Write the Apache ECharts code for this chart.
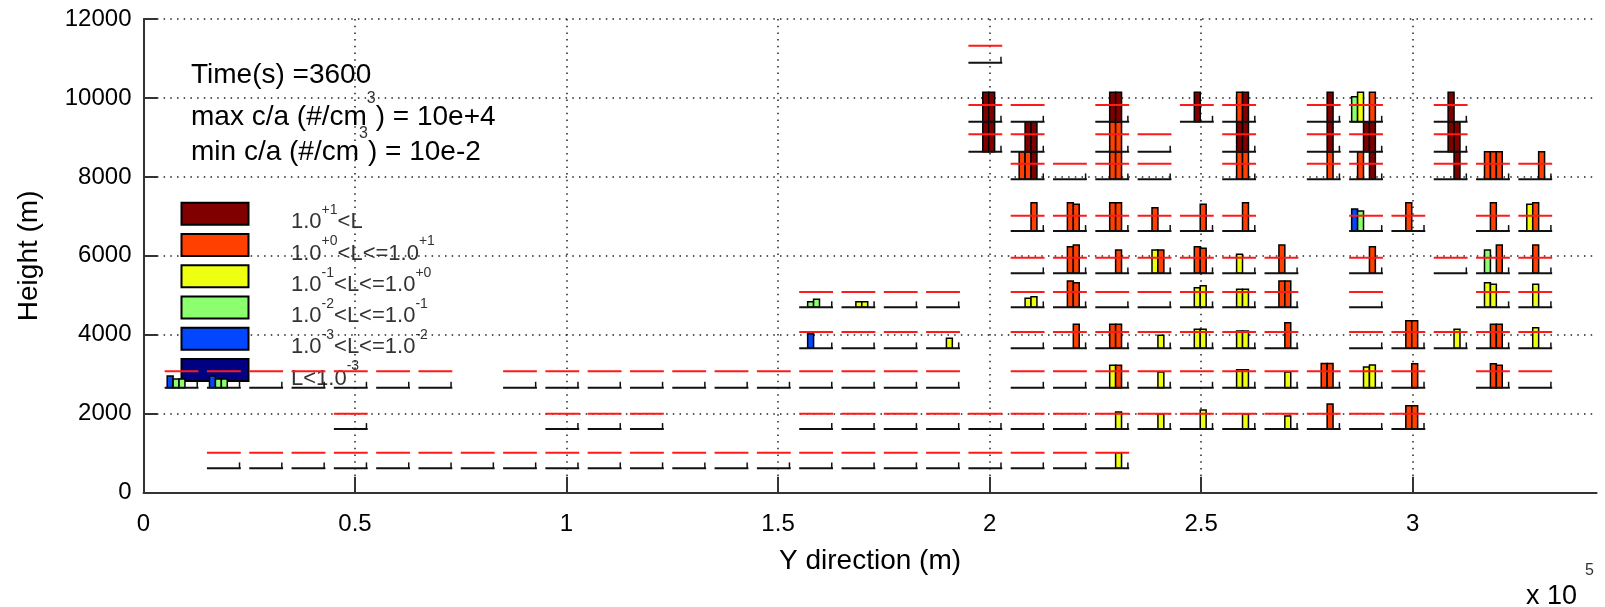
<!DOCTYPE html>
<html>
<head>
<meta charset="utf-8">
<style>
  html, body { margin: 0; padding: 0; background: #fff; }
  #chart { width: 1605px; height: 607px; }
</style>
<script src="https://cdn.jsdelivr.net/npm/echarts@6/dist/echarts.min.js"></script>
</head>
<body>
<div id="chart"></div>
<script>
// horizontal position of each column of histograms (x 10^5 m)
const columnX = [0.05, 0.15, 0.25, 0.35, 0.45, 0.55, 0.65, 0.75, 0.85, 0.95, 1.05,
  1.15, 1.25, 1.35, 1.45, 1.55, 1.65, 1.75, 1.85, 1.95, 2.05, 2.15, 2.25, 2.35,
  2.45, 2.55, 2.65, 2.75, 2.85, 2.95, 3.05, 3.15, 3.25]
const xTickValues = [0, 0.5, 1, 1.5, 2, 2.5, 3]

// model levels (m): red reference line and histogram baseline
const levelRed = [1010, 2000, 3075, 4070, 5085, 5950, 7015, 8330, 9080, 9820, 11320]
const levelBase = [618, 1614, 2660, 3658, 4697, 5558, 6630, 7939, 8638, 9398, 10893]

// which columns have a histogram at each level
const levelCells = [
  [1, 2, 3, 4, 5, 6, 7, 8, 9, 10, 11, 12, 13, 14, 15, 16, 17, 18, 19, 20, 21, 22],
  [4, 9, 10, 11, 15, 16, 17, 18, 19, 20, 21, 22, 23, 24, 25, 26, 27, 28, 29],
  [0, 1, 2, 3, 4, 5, 6, 8, 9, 10, 11, 12, 13, 14, 15, 16, 17, 18, 20, 21, 22, 23, 24, 25, 26, 27, 28, 29, 31, 32],
  [15, 16, 17, 18, 20, 21, 22, 23, 24, 25, 26, 28, 29, 30, 31, 32],
  [15, 16, 17, 18, 20, 21, 22, 23, 24, 25, 26, 28, 31, 32],
  [20, 21, 22, 23, 24, 25, 26, 28, 30, 31, 32],
  [20, 21, 22, 23, 24, 25, 28, 29, 31, 32],
  [20, 21, 22, 23, 25, 27, 28, 30, 31, 32],
  [19, 20, 22, 23, 25, 27, 28, 30],
  [19, 20, 22, 24, 25, 27, 28, 30],
  [19]
]

// bars per level: [column, bin, height above baseline (m), class]
// class 0: >1e1, 1: 1e0..1e1, 2: 1e-1..1e0, 3: 1e-2..1e-1, 4: 1e-3..1e-2, 5: <1e-3
const barsL0 = [[22, 3, 395, 2]]
const barsL1 = [[22, 3, 430, 2], [23, 3, 380, 2], [24, 3, 480, 2], [25, 3, 380, 2], [26, 3, 330, 2],
  [27, 3, 633, 1], [29, 2, 590, 1], [29, 3, 590, 1]]
const barsL2 = [[0, 0, 296, 4], [0, 1, 220, 3], [0, 2, 220, 3], [1, 0, 296, 4], [1, 1, 220, 3], [1, 2, 220, 3],
  [22, 2, 567, 2], [22, 3, 567, 1], [23, 3, 398, 2], [25, 2, 456, 2], [25, 3, 456, 2], [26, 3, 398, 2],
  [27, 2, 610, 1], [27, 3, 610, 1], [28, 2, 524, 2], [28, 3, 575, 2], [29, 3, 608, 1], [31, 2, 608, 1], [31, 3, 567, 1]]
const barsL3 = [[15, 1, 370, 4], [18, 3, 253, 2], [21, 3, 608, 1], [22, 2, 608, 1], [22, 3, 608, 1],
  [23, 3, 329, 2], [24, 2, 481, 2], [24, 3, 481, 2], [25, 2, 439, 2], [25, 3, 439, 2], [26, 3, 649, 1],
  [29, 2, 699, 1], [29, 3, 699, 1], [30, 3, 481, 2], [31, 2, 608, 1], [31, 3, 608, 1], [32, 2, 523, 2]]
const barsL4 = [[15, 1, 142, 3], [15, 2, 202, 3], [16, 2, 142, 2], [16, 3, 142, 2], [20, 2, 227, 2], [20, 3, 269, 2],
  [21, 2, 666, 1], [21, 3, 623, 1], [24, 2, 497, 2], [24, 3, 547, 2], [25, 2, 455, 2], [25, 3, 455, 2],
  [26, 2, 666, 1], [26, 3, 666, 1], [31, 1, 623, 2], [31, 2, 581, 2], [32, 2, 581, 2]]
const barsL5 = [[21, 2, 674, 1], [21, 3, 717, 1], [22, 3, 590, 1], [23, 2, 590, 2], [23, 3, 590, 1],
  [24, 2, 674, 1], [24, 3, 632, 1], [25, 2, 481, 2], [26, 2, 717, 1], [28, 3, 674, 1],
  [31, 1, 590, 3], [31, 3, 717, 1], [32, 2, 717, 1]]
const barsL6 = [[20, 3, 717, 1], [21, 2, 717, 1], [21, 3, 676, 1], [22, 2, 717, 1], [22, 3, 717, 1],
  [23, 2, 590, 1], [24, 3, 676, 1], [25, 3, 717, 1], [28, 0, 557, 4], [28, 1, 506, 3],
  [29, 2, 717, 1], [31, 2, 717, 1], [32, 1, 676, 2], [32, 2, 717, 1]]
const barsL7 = [[20, 1, 700, 1], [20, 2, 700, 1], [20, 3, 700, 0], [22, 2, 700, 1], [22, 3, 700, 1],
  [25, 2, 700, 1], [25, 3, 700, 1], [27, 3, 700, 1], [28, 1, 700, 1], [28, 3, 700, 0], [30, 3, 700, 0],
  [31, 1, 700, 1], [31, 2, 700, 1], [31, 3, 700, 1], [32, 3, 700, 1]]
const barsL8 = [[19, 2, 760, 0], [19, 3, 760, 0], [20, 2, 760, 0], [20, 3, 760, 0], [22, 2, 760, 1], [22, 3, 760, 1],
  [25, 2, 760, 0], [25, 3, 760, 0], [27, 3, 760, 0], [28, 2, 760, 0], [28, 3, 760, 0], [30, 2, 760, 0], [30, 3, 760, 0]]
const barsL9 = [[19, 2, 745, 0], [19, 3, 745, 0], [22, 2, 745, 0], [22, 3, 745, 0], [24, 2, 745, 0],
  [25, 2, 745, 1], [25, 3, 745, 0], [27, 3, 745, 0], [28, 0, 634, 3], [28, 1, 745, 2], [28, 3, 745, 1], [30, 2, 745, 0]]
const levelBars = [barsL0, barsL1, barsL2, barsL3, barsL4, barsL5, barsL6, barsL7, barsL8, barsL9, []]

const classColors = ['#800000', '#ff4000', '#eeff10', '#8cff6e', '#0047ff', '#000080']
const classLabels = [
  '{n|1.0}{s|+1}{n|<L}',
  '{n|1.0}{s|+0}{n|<L<=1.0}{s|+1}',
  '{n|1.0}{s|-1}{n|<L<=1.0}{s|+0}',
  '{n|1.0}{s|-2}{n|<L<=1.0}{s|-1}',
  '{n|1.0}{s|-3}{n|<L<=1.0}{s|-2}',
  '{n|L<1.0}{s|-3}'
]
const infoLines = [
  '{n|Time(s) =3600}',
  '{n|max c/a (#/cm}{s|3}{n|) = 10e+4}',
  '{n|min c/a (#/cm}{s|3}{n|) = 10e-2}'
]

const FONT = '"Liberation Sans", Arial, sans-serif'
const CELL_W = 0.08
const BIN_X0 = 0.006
const BIN_W = 0.014
const TICK_X = 0.077
const TICK_H = 150

const frameData = []
levelCells.forEach((cols, lv) => {
  cols.forEach(c => frameData.push([columnX[c], levelBase[lv], levelRed[lv]]))
})

const barData = []
levelBars.forEach((list, lv) => {
  list.forEach(([c, bin, h, cls]) => {
    barData.push([columnX[c] + BIN_X0 + BIN_W * bin, levelBase[lv], levelBase[lv] + h, cls])
  })
})

const chart = echarts.init(document.getElementById('chart'))

const infoRich = {
  n: { fontSize: 28, lineHeight: 40, fontFamily: FONT, fill: '#000', verticalAlign: 'bottom' },
  s: { fontSize: 16, lineHeight: 16, fontFamily: FONT, fill: '#333', verticalAlign: 'top' }
}
const legendRich = {
  n: { fontSize: 22, lineHeight: 30, fontFamily: FONT, fill: '#333', verticalAlign: 'bottom' },
  s: { fontSize: 14, lineHeight: 14, fontFamily: FONT, fill: '#333', verticalAlign: 'top' }
}

const graphics = []
const infoTops = [49, 91, 126]
infoLines.forEach((t, i) => {
  graphics.push({ type: 'text', x: 191, y: infoTops[i], z: 1, style: { text: t, rich: infoRich } })
})
classLabels.forEach((t, i) => {
  const top = 202.7 + 31.26 * i
  graphics.push({
    type: 'rect', z: 1,
    shape: { x: 181.5, y: top, width: 67, height: 22 },
    style: { fill: classColors[i], stroke: '#000', lineWidth: 2 }
  })
  graphics.push({ type: 'text', x: 291, y: top + 0.5, z: 1, style: { text: t, rich: legendRich } })
})
graphics.push({
  type: 'text', x: 1526, y: 583, z: 1,
  style: { text: 'x 10', fontSize: 27, fontFamily: FONT, fill: '#000' }
})
graphics.push({
  type: 'text', x: 1585, y: 563, z: 1,
  style: { text: '5', fontSize: 16, fontFamily: FONT, fill: '#333' }
})

const dotted = { type: [1.5, 5.2], color: '#222', width: 1.5 }

const option = {
  animation: false,
  grid: { left: 143.5, right: 8.4, top: 19, bottom: 114.3, containLabel: false, outerBoundsMode: 'none' },
  xAxis: {
    type: 'value',
    min: 0,
    max: 3.435,
    interval: 0.5,
    name: 'Y direction (m)',
    nameLocation: 'middle',
    nameGap: 55,
    nameTextStyle: { fontSize: 28, fontFamily: FONT, color: '#000' },
    axisLine: { show: true, lineStyle: { color: '#333', width: 2 } },
    axisTick: { show: true, inside: true, length: 16, lineStyle: { color: '#333', width: 2 },
      customValues: xTickValues },
    axisLabel: { fontSize: 24, fontFamily: FONT, color: '#000', margin: 20, formatter: v => String(v),
      customValues: xTickValues },
    splitLine: { show: true, showMinLine: false, lineStyle: dotted }
  },
  yAxis: {
    type: 'value',
    min: 0,
    max: 12000,
    interval: 2000,
    name: 'Height (m)',
    nameLocation: 'middle',
    nameGap: 100,
    nameTextStyle: { fontSize: 28, fontFamily: FONT, color: '#000' },
    axisLine: { show: true, lineStyle: { color: '#333', width: 2 } },
    axisTick: { show: true, inside: true, length: 14, lineStyle: { color: '#333', width: 2 } },
    axisLabel: { fontSize: 24, fontFamily: FONT, color: '#000', margin: 12, formatter: v => String(v) },
    splitLine: { show: true, showMinLine: false, lineStyle: dotted }
  },
  graphic: graphics,
  series: [
    {
      type: 'custom',
      name: 'bars',
      z: 3,
      encode: { x: 0, y: [1, 2] },
      data: barData,
      renderItem: (params, api) => {
        const x0 = api.value(0)
        const a = api.coord([x0, api.value(1)])
        const b = api.coord([x0 + BIN_W, api.value(2)])
        return {
          type: 'rect',
          shape: { x: a[0], y: b[1], width: b[0] - a[0], height: a[1] - b[1] },
          style: { fill: classColors[api.value(3)], stroke: '#000', lineWidth: 1.5 }
        }
      }
    },
    {
      type: 'custom',
      name: 'frames',
      z: 4,
      encode: { x: 0, y: [1, 2] },
      data: frameData,
      renderItem: (params, api) => {
        const x = api.value(0)
        const base = api.value(1)
        const red = api.value(2)
        const b0 = api.coord([x, base])
        const b1 = api.coord([x + CELL_W, base])
        const t0 = api.coord([x + TICK_X, base])
        const t1 = api.coord([x + TICK_X, base + TICK_H])
        const r0 = api.coord([x, red])
        const r1 = api.coord([x + CELL_W, red])
        return {
          type: 'group',
          children: [
            { type: 'line', shape: { x1: b0[0], y1: b0[1], x2: b1[0], y2: b1[1] }, style: { stroke: '#111', lineWidth: 2 } },
            { type: 'line', shape: { x1: t0[0], y1: t0[1], x2: t1[0], y2: t1[1] }, style: { stroke: '#111', lineWidth: 1.5 } },
            { type: 'line', shape: { x1: r0[0], y1: r0[1], x2: r1[0], y2: r1[1] }, style: { stroke: '#ff1a1a', lineWidth: 2 } }
          ]
        }
      }
    }
  ]
}

chart.setOption(option)
</script>
</body>
</html>
